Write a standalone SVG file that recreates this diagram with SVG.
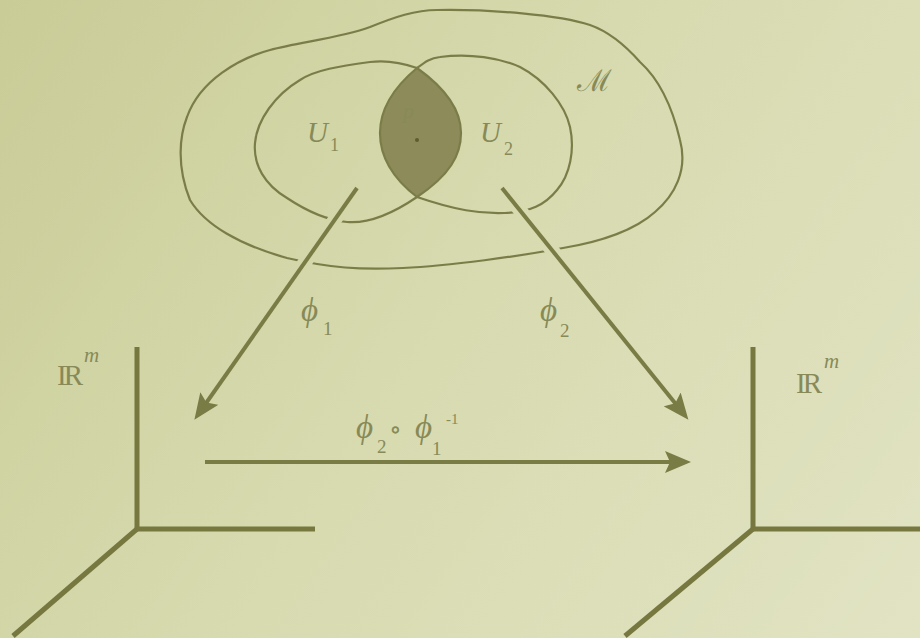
<svg xmlns="http://www.w3.org/2000/svg" width="920" height="638" viewBox="0 0 920 638">
<style>
.curve{fill:none;stroke:#7b7d49;stroke-width:2.2;stroke-linecap:round}
.axis{fill:none;stroke:#76783f;stroke-width:5;stroke-linejoin:miter}
.arr{fill:none;stroke:#7a7c45;stroke-width:4}
.lbl{font-family:"Liberation Serif","DejaVu Serif",serif;font-style:italic;fill:#878a58}
.num{font-family:"Liberation Serif","DejaVu Serif",serif;fill:#878a58}
</style>
<defs>
<linearGradient id="bg" x1="0" y1="0" x2="920" y2="638" gradientUnits="userSpaceOnUse">
<stop offset="0" stop-color="#c9cc96"/>
<stop offset="0.5" stop-color="#d8dbb0"/>
<stop offset="1" stop-color="#e1e3c3"/>
</linearGradient>
<marker id="ah" viewBox="0 0 26 22" markerWidth="26" markerHeight="22" refX="11" refY="11" orient="auto" markerUnits="userSpaceOnUse">
<path d="M0,0 L26,11 L0,22 L5,11 Z" fill="#7a7c45"/>
</marker>
<mask id="gaps" maskUnits="userSpaceOnUse" x="0" y="0" width="920" height="638">
<rect x="0" y="0" width="920" height="638" fill="#fff"/>
<path d="M357,188 L203,407.5 M502,188 L679,408" stroke="#000" stroke-width="14" fill="none"/>
</mask>
</defs>
<rect x="0" y="0" width="920" height="638" fill="url(#bg)"/>

<g id="lens">
<path d="M417,68 C393,88 380,110 380,133 C380,160 395,180 417,197 C450,175 461,155 461,133 C461,110 445,88 417,68 Z" fill="#8d8b5a"/>
<circle cx="417" cy="140" r="2" fill="#5e5c30"/>
<text class="lbl" x="403" y="118" font-size="22" fill="#76744a">p</text>
</g>

<g id="curves" mask="url(#gaps)">
<g id="manifold">
<path class="curve" d="M437,10 C415,10 395,17 370,27 C340,38 300,42 270,50 C240,58 200,80 187,117 C180,135 176,165 190,200 C205,225 240,245 287,258 C330,268 360,270 403,268 C450,266 520,256 563,248 C600,242 635,230 655,212 C675,195 688,170 680,140 C673,110 660,80 640,62 C625,45 610,32 590,25 C560,15 490,9 437,10 Z"/>
</g>
<g id="U1">
<path class="curve" d="M417,68 C400,62 385,60 370,62 C340,66 315,70 300,80 C275,95 257,120 255,143 C253,165 265,185 287,198 C305,210 325,220 347,222 C370,224 395,212 417,197 C450,175 461,155 461,133 C461,110 445,88 417,68 Z"/>
</g>
<g id="U2">
<path class="curve" d="M417,68 C425,62 430,58 440,57 C470,53 500,58 520,67 C545,80 565,105 570,127 C575,150 570,175 557,190 C545,205 530,212 505,213 C480,214 455,210 417,197 C395,180 380,160 380,133 C380,110 393,88 417,68 Z"/>
</g>
</g>

<g id="labels-top">
<text x="577" y="91" font-family="DejaVu Serif, serif" font-size="30" fill="#878a58">ℳ</text>
<text class="lbl" x="307" y="142" font-size="29">U</text>
<text class="num" x="330" y="151" font-size="18">1</text>
<text class="lbl" x="480" y="142" font-size="29">U</text>
<text class="num" x="504" y="155" font-size="18">2</text>
</g>

<g id="R1">
<path class="axis" d="M137,347 V529 H315"/>
<path class="axis" d="M137,529 L13,636"/>
<text class="num" x="57" y="385" font-size="29" letter-spacing="-3">IR</text>
<text class="lbl" x="84" y="362" font-size="21">m</text>
</g>

<g id="R2">
<path class="axis" d="M753,347 V529 H920"/>
<path class="axis" d="M753,529 L625,636"/>
<text class="num" x="796" y="393" font-size="29" letter-spacing="-3">IR</text>
<text class="lbl" x="824" y="368" font-size="21">m</text>
</g>

<g id="connectors">
<path class="arr" d="M357,188 L203,407.5" marker-end="url(#ah)"/>
<path class="arr" d="M502,188 L679,408" marker-end="url(#ah)"/>
<path class="arr" d="M205,462 L676,462" stroke-width="3" marker-end="url(#ah)"/>
<text class="lbl" x="301" y="321" font-size="33">ϕ</text>
<text class="num" x="323" y="335" font-size="19">1</text>
<text class="lbl" x="540" y="321" font-size="33">ϕ</text>
<text class="num" x="560" y="337" font-size="19">2</text>
<text class="lbl" x="356" y="438" font-size="33">ϕ</text>
<text class="num" x="377" y="453" font-size="19">2</text>
<text class="num" x="389" y="438" font-size="26">∘</text>
<text class="lbl" x="415" y="438" font-size="33">ϕ</text>
<text class="num" x="432" y="455" font-size="19">1</text>
<text class="num" x="446" y="424" font-size="15">-1</text>
</g>
</svg>
